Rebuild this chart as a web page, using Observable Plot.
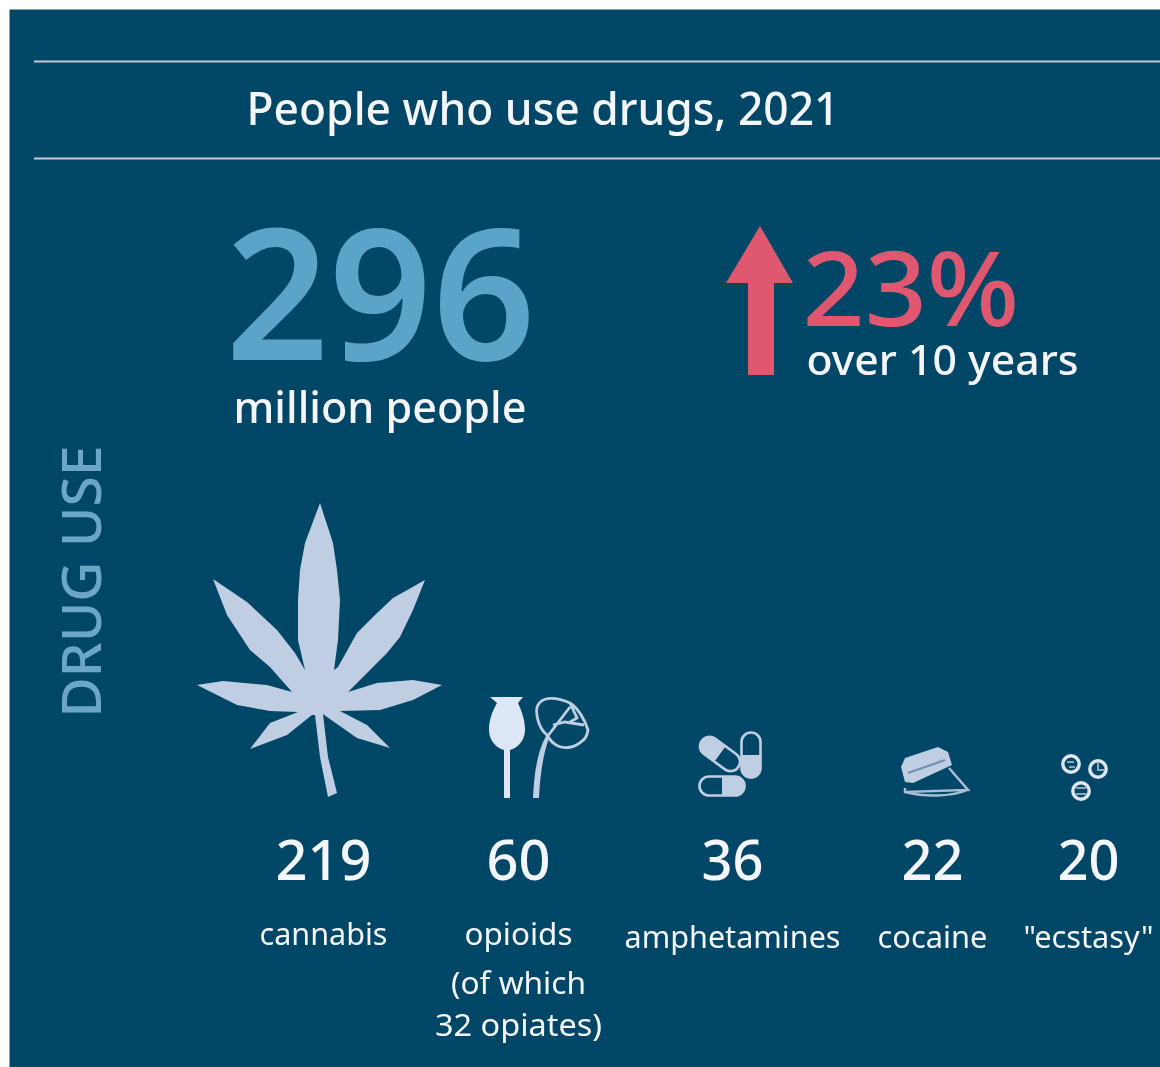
<!DOCTYPE html>
<html>
<head>
<meta charset="utf-8">
<title>People who use drugs, 2021</title>
<script src="https://cdn.jsdelivr.net/npm/d3@7"></script>
<script src="https://cdn.jsdelivr.net/npm/@observablehq/plot@0.6"></script>
<style>
html,body{margin:0;padding:0;background:#fff;overflow:hidden}
svg{display:block;filter:blur(0.5px)}
</style>
</head>
<body>
<div id="chart"></div>
<script>
// ---- data ----
const title = "People who use drugs, 2021";
const totalValue = "296";
const totalUnit = "million people";
const changeValue = "23%";
const changeNote = "over 10 years";
const sideLabel = "DRUG USE";
const categories = ["cannabis", "opioids", "amphetamines", "cocaine", "\"ecstasy\""];
const values = [219, 60, 36, 22, 20];
const opioidNotes = ["(of which", "32 opiates)"];

// ---- layout & style ----
const W = 1160, H = 1067;
const font = "'Noto Sans', sans-serif";
const bg = "#004767", white = "#f4f6fa", blue = "#5ba4c9", red = "#e0586f", side = "#6ba6c6", leaf = "#bfcee2", pale = "#dce6f4";
const centerOf = {"cannabis":323,"opioids":518,"amphetamines":732,"cocaine":932,"\"ecstasy\"":1088};
const labelWidth = {"cannabis":128,"opioids":108,"amphetamines":216,"cocaine":110,"\"ecstasy\"":130,"(of which":135,"32 opiates)":167};
const fitted = {[title]:593,[totalValue]:310,[totalUnit]:293,[changeValue]:217,[changeNote]:272,[sideLabel]:272,"219":96,"60":64,"36":62,"22":62,"20":62,...labelWidth};

const poly = pts => "M" + pts.map(p => p.join(",")).join("L") + "Z";
const leafShape = [[320,503],[333,543],[337,570],[340,600],[338,640],[334,670],[338,667],[357,633],[375,615],[393,598],[425,580],[413,610],[400,637],[387,653],[370,670],[357,683],[348,692],[377,683],[413,680],[442,685],[413,700],[380,710],[340,711],[367,725],[390,748],[357,738],[327,717],[323,714],[328,757],[337,793],[328,797],[320,757],[315,715],[312,715],[287,735],[250,749],[270,723],[298,712],[270,711],[237,705],[197,685],[223,681],[267,685],[292,692],[270,667],[250,650],[227,615],[213,579],[247,602],[277,630],[295,653],[305,670],[298,640],[298,600],[300,570],[305,543]];
const bulbShape = "M490,697L523,697L518,703C522,712 525,720 525,730C525,740 518,748 510,750L510,798L504,798L504,750C496,748 489,740 489,730C489,720 492,712 497,703Z";
const arrowShape = [[760,226],[793,283],[774,283],[774,375],[748,375],[748,283],[726,283]];
const flowerStem = "M533,798L539,798C540,775 543,755 549,738L546,736C537,752 534,775 533,798Z";
const flowerLines = "M547,737L570,707M547,735C537,727 535,710 538,705C542,697 555,696 570,703C578,708 585,720 588,730C587,736 584,740 582,741C575,748 565,749 558,746C552,743 549,739 547,735M553,725L565,722L584,725M570,703L577,718L570,722";
const cardShape = [[901,767],[905,758],[938,747],[948,752],[952,765],[913,783],[905,782]];
const powderLine = "M949,768L968,790L905,792L905,788M968,790C950,797 925,797 905,792";

function icons() {
  const g = d3.create("svg:g");
  g.append("path").attr("d", poly(arrowShape)).attr("fill", red);
  g.append("path").attr("d", poly(leafShape)).attr("fill", leaf);
  g.append("path").attr("d", bulbShape).attr("fill", pale);
  g.append("path").attr("d", flowerStem).attr("fill", leaf);
  g.append("path").attr("d", flowerLines).attr("fill", "none").attr("stroke", leaf).attr("stroke-width", 2.8);
  for (const [cx, cy, a, s] of [[720,754,36,-1],[751,755,90,1],[722,786,0,1]]) {
    const len = 45, wid = 19, r = wid/2;
    const t = d3.create("svg:g").attr("transform", `translate(${cx},${cy}) rotate(${a})`);
    t.append("path").attr("fill", leaf).attr("d", s < 0
      ? `M0,${-r}H${-len/2+r}A${r},${r} 0 0 0 ${-len/2+r},${r}H0Z`
      : `M0,${-r}H${len/2-r}A${r},${r} 0 0 1 ${len/2-r},${r}H0Z`);
    t.append("rect").attr("x", -len/2).attr("y", -r).attr("width", len).attr("height", wid).attr("rx", r).attr("fill", "none").attr("stroke", leaf).attr("stroke-width", 2.6);
    g.node().appendChild(t.node());
  }
  g.append("path").attr("d", poly(cardShape)).attr("fill", leaf);
  g.append("path").attr("d", "M908,773L945,760").attr("stroke", "#6f8fae").attr("stroke-width", 2).attr("fill", "none");
  g.append("path").attr("d", powderLine).attr("fill", "none").attr("stroke", "#a9bdd4").attr("stroke-width", 2.4);
  for (const [cx, cy, d] of [[1071,764,"M1067,762h7M1069,767h6"],[1098,769,"M1098,763v7h6"],[1081,791,"M1076,788h10M1076,794h10"]]) {
    g.append("circle").attr("cx", cx).attr("cy", cy).attr("r", 8.2).attr("fill", "none").attr("stroke", "#dfe6f0").attr("stroke-width", 3.4);
    g.append("path").attr("d", d).attr("fill", "none").attr("stroke", "#8fa8c0").attr("stroke-width", 2);
  }
  return g.node();
}

const headline = (text, dx, dy, fontSize, fill, rest = {}) =>
  Plot.text([text], {text: d => d, frameAnchor: "top-left", dx, dy, fontSize, fill, fontFamily: font, textAnchor: "start", lineAnchor: "bottom", ...rest});
const row = (data, textOf, dy, fontSize, rest = {}) =>
  Plot.text(data, {x: d => centerOf[d], text: textOf, frameAnchor: "top", dy, fontSize, fill: white, fontFamily: font, textAnchor: "middle", lineAnchor: "bottom", ...rest});

const chart = Plot.plot({
  width: W, height: H,
  margin: 0,
  style: {background: "#fff", overflow: "hidden"},
  x: {type: "identity", axis: null},
  y: {type: "identity", axis: null},
  marks: [
    Plot.frame({fill: bg, stroke: "none", insetLeft: 9, insetTop: 9}),
    Plot.ruleY([61, 158], {stroke: "#c4cad4", strokeWidth: 2, insetLeft: 34}),
    icons,
    headline(title, 246, 124, 46, white, {fontWeight: 500}),
    headline(totalValue, 225, 359, 182, blue, {fontWeight: 600}),
    headline(totalUnit, 233, 422, 44, white, {fontWeight: 500}),
    headline(changeValue, 802, 325, 104, red, {fontWeight: 500}),
    headline(changeNote, 806, 374, 41, white, {fontWeight: 500}),
    Plot.text([sideLabel], {text: d => d, frameAnchor: "top-left", dx: 100, dy: 581, fontSize: 54, fill: side, fontFamily: font, fontWeight: 500, rotate: -90, textAnchor: "middle", lineAnchor: "bottom"}),
    row(categories, (d, i) => String(values[i]), 879, 56, {fontWeight: 500}),
    row(categories.slice(0, 2), d => d, 944, 31),
    row(categories.slice(2), d => d, 947, 31),
    row(["opioids"], () => opioidNotes[0], 993, 31),
    row(["opioids"], () => opioidNotes[1], 1035, 31)
  ]
});

// fit each real text element to the width measured on the reference
chart.querySelectorAll("text").forEach(t => {
  const w = fitted[t.textContent];
  if (w) { t.setAttribute("textLength", w); t.setAttribute("lengthAdjust", "spacingAndGlyphs"); }
});
document.getElementById("chart").appendChild(chart);
</script>
</body>
</html>
